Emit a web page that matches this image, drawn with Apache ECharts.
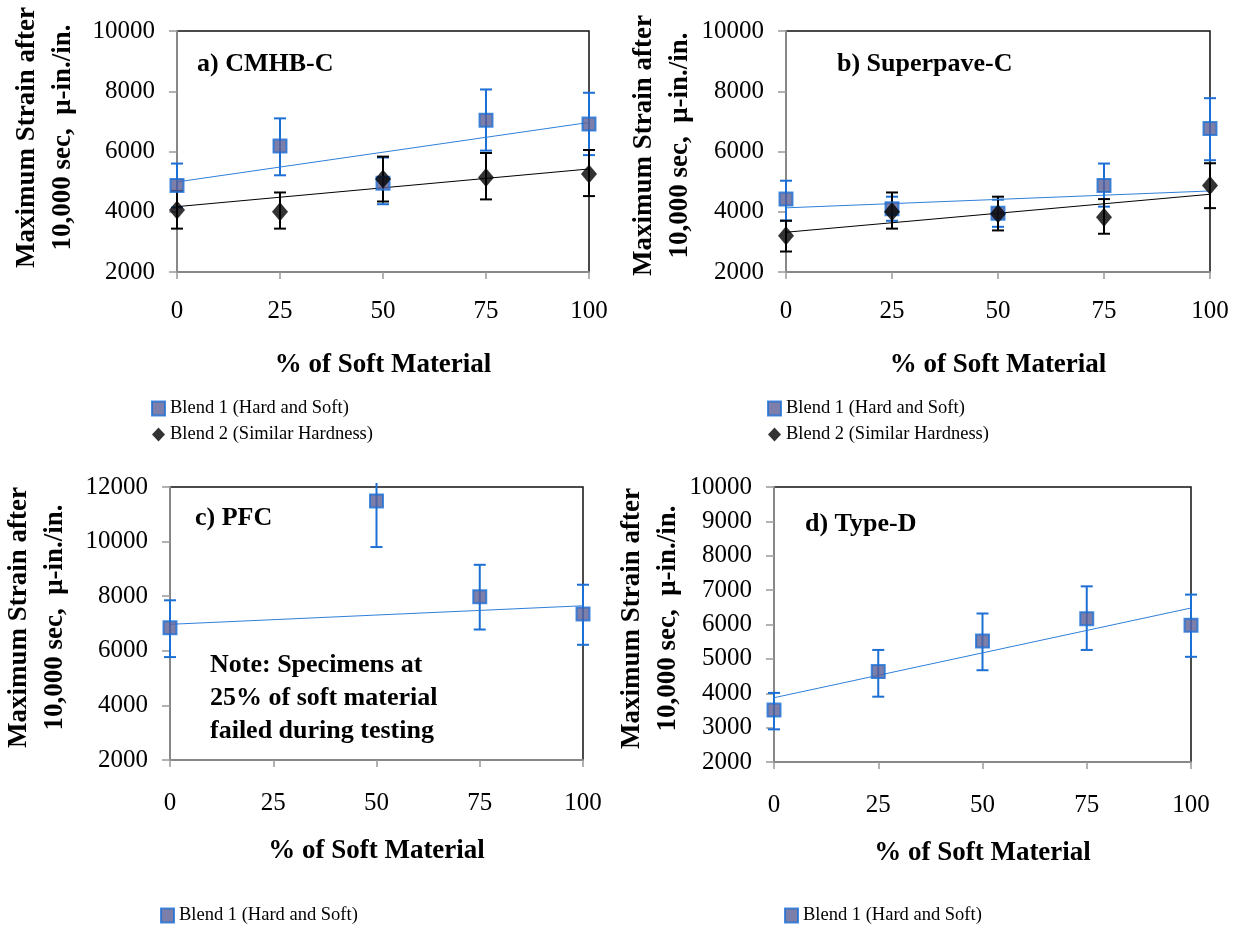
<!DOCTYPE html>
<html>
<head>
<meta charset="utf-8">
<script src="https://cdn.jsdelivr.net/npm/echarts@6/dist/echarts.min.js"></script>
<style>
html,body{margin:0;padding:0;background:#fff;}
#main{width:1239px;height:925px;}
</style>
</head>
<body>
<div id="main"></div>
<script>
// % of soft material
var pct = [0, 25, 50, 75, 100];
var trendX = [0, 100];

// a) CMHB-C
var aBlend1   = [4870, 6180, 4950, 7040, 6910];
var aBlend1Lo = [4140, 5210, 4250, 6030, 5880];
var aBlend1Hi = [5600, 7100, 5800, 8060, 7950];
var aBlend2   = [4060, 4000, 5090, 5140, 5250];
var aBlend2Lo = [3440, 3440, 4340, 4410, 4520];
var aBlend2Hi = [4690, 4640, 5830, 5950, 6050];
var aTrend1 = [4990, 6965];
var aTrend2 = [4170, 5420];

// b) Superpave-C
var bBlend1   = [4420, 4100, 3950, 4870, 6760];
var bBlend1Lo = [3710, 3700, 3500, 4170, 5710];
var bBlend1Hi = [5030, 4500, 4400, 5600, 7770];
var bBlend2   = [3200, 4000, 3930, 3820, 4870];
var bBlend2Lo = [2680, 3440, 3380, 3270, 4120];
var bBlend2Hi = [3700, 4640, 4500, 4420, 5610];
var bTrend1 = [4130, 4690];
var bTrend2 = [3320, 4580];

// c) PFC (no 25% result)
var cBlend1   = [6840, null, 11490, 7980, 7350];
var cBlend1Lo = [5770, null, 9800, 6780, 6220];
var cBlend1Hi = [7850, null, 13180, 9150, 8420];
var cTrend1 = [6970, 7650];

// d) Type-D
var dBlend1   = [3510, 4630, 5520, 6170, 5980];
var dBlend1Lo = [2950, 3900, 4670, 5260, 5060];
var dBlend1Hi = [4010, 5260, 6320, 7110, 6870];
var dTrend1 = [3870, 6480];

var yTicksA = {min: 2000, max: 10000, interval: 2000};
var yTicksC = {min: 2000, max: 12000, interval: 2000};
var yTicksD = {min: 2000, max: 10000, interval: 1000};

var NAME1 = 'Blend 1 (Hard and Soft)';
var NAME2 = 'Blend 2 (Similar Hardness)';
var FONT = '"Liberation Serif", "Times New Roman", serif';
var BLUE = '#1c6fd4';

function pts(xs, ys) {
    var out = [];
    for (var i = 0; i < xs.length; i++) {
        if (ys[i] != null) out.push([xs[i], ys[i]]);
    }
    return out;
}
function errs(xs, lo, hi) {
    var out = [];
    for (var i = 0; i < xs.length; i++) {
        if (lo[i] != null) out.push([xs[i], lo[i], hi[i]]);
    }
    return out;
}

// vertical error bar with caps; bar running off the top of the plot loses its cap
function errRender(params, api) {
    var x = api.value(0);
    var pLo = api.coord([x, api.value(1)]);
    var pHi = api.coord([x, api.value(2)]);
    var cs = params.coordSys;
    var top = pHi[1], capTop = true;
    if (top < cs.y - 4) { top = cs.y - 4; capTop = false; }
    var st = {stroke: api.visual('color'), lineWidth: 2};
    var w = 6;
    var kids = [
        {type: 'line', shape: {x1: pLo[0], y1: pLo[1], x2: pLo[0], y2: top}, style: st},
        {type: 'line', shape: {x1: pLo[0] - w, y1: pLo[1], x2: pLo[0] + w, y2: pLo[1]}, style: st}
    ];
    if (capTop) kids.push({type: 'line', shape: {x1: pHi[0] - w, y1: top, x2: pHi[0] + w, y2: top}, style: st});
    return {type: 'group', children: kids};
}

var grids = [
    {left: 177, right: 650, top: 31, height: 241},
    {left: 786, right: 29, top: 31, height: 241},
    {left: 168, right: 656, top: 487, height: 273},
    {left: 774, right: 48, top: 487, height: 275}
];
grids.forEach(function (g) {
    g.show = true; g.borderColor = '#111'; g.borderWidth = 1.5; g.backgroundColor = 'transparent';
});

function xAx(i, labelGap, nameGap) {
    return {
        gridIndex: i, type: 'value', min: 0, max: 100, interval: 25,
        name: '% of Soft Material', nameLocation: 'middle', nameGap: nameGap,
        nameTextStyle: {fontFamily: FONT, fontWeight: 'bold', fontSize: 27, color: '#000'},
        axisLine: {onZero: false, lineStyle: {color: '#888', width: 2}},
        axisTick: {show: true, length: 7, lineStyle: {color: '#999', width: 1.5}},
        axisLabel: {fontFamily: FONT, fontSize: 25, color: '#000', margin: labelGap},
        splitLine: {show: false}
    };
}
function yAx(i, t, gap, lift) {
    return {
        gridIndex: i, type: 'value', min: t.min, max: t.max, interval: t.interval,
        name: 'Maximum Strain after\n10,000 sec,  \u03bc-in./in.', nameLocation: 'middle', nameRotate: 90, nameGap: gap,
        nameTextStyle: {fontFamily: FONT, fontWeight: 'bold', fontSize: 27, color: '#000', lineHeight: 36,
                        padding: [0, 0, 0, lift]},
        axisLine: {show: true, lineStyle: {color: '#888', width: 2}},
        axisTick: {show: true, length: 8, lineStyle: {color: '#999', width: 1.5}},
        axisLabel: {fontFamily: FONT, fontSize: 25, color: '#000', margin: 22,
                    formatter: function (v) { return String(v); }},
        splitLine: {show: false}
    };
}

var series = [];
function addBlend(gi, name, xs, ys, lo, hi, trend, isDiamond) {
    var col = isDiamond ? '#000' : BLUE;
    series.push({
        type: 'custom', xAxisIndex: gi, yAxisIndex: gi, renderItem: errRender,
        itemStyle: {color: col}, data: errs(xs, lo, hi), z: 2, silent: true
    });
    series.push({
        type: 'line', xAxisIndex: gi, yAxisIndex: gi, data: pts(trendX, trend),
        symbol: 'none', lineStyle: {color: isDiamond ? '#000' : '#2f80da', width: 1}, z: 3, silent: true
    });
    series.push({
        name: name, type: 'scatter', xAxisIndex: gi, yAxisIndex: gi, data: pts(xs, ys), z: 4,
        symbol: isDiamond ? 'diamond' : 'rect', symbolSize: isDiamond ? [16, 19] : 13,
        itemStyle: isDiamond ? {color: '#000'} : {color: '#5d5f96', borderColor: BLUE, borderWidth: 2}
    });
}
addBlend(0, NAME1, pct, aBlend1, aBlend1Lo, aBlend1Hi, aTrend1, false);
addBlend(0, NAME2, pct, aBlend2, aBlend2Lo, aBlend2Hi, aTrend2, true);
addBlend(1, NAME1, pct, bBlend1, bBlend1Lo, bBlend1Hi, bTrend1, false);
addBlend(1, NAME2, pct, bBlend2, bBlend2Lo, bBlend2Hi, bTrend2, true);
addBlend(2, NAME1, pct, cBlend1, cBlend1Lo, cBlend1Hi, cTrend1, false);
addBlend(3, NAME1, pct, dBlend1, dBlend1Lo, dBlend1Hi, dTrend1, false);

function legend(left, top, names) {
    return {
        left: left, top: top, orient: 'vertical', data: names, itemGap: 7,
        itemWidth: 13, itemHeight: 14, selectedMode: false,
        textStyle: {fontFamily: FONT, fontSize: 18.5, color: '#000'}
    };
}

var titleStyle = {fontFamily: FONT, fontWeight: 'bold', fontSize: 26, color: '#000'};
var option = {
    animation: false,
    backgroundColor: '#fff',
    title: [
        {text: 'a) CMHB-C', left: 192, top: 46, textStyle: titleStyle},
        {text: 'b) Superpave-C', left: 832, top: 46, textStyle: titleStyle},
        {text: 'c) PFC', left: 190, top: 500, textStyle: titleStyle},
        {text: 'd) Type-D', left: 800, top: 506, textStyle: titleStyle},
        {text: 'Note: Specimens at\n25% of soft material\nfailed during testing', left: 205, top: 644,
         textStyle: {fontFamily: FONT, fontWeight: 'bold', fontSize: 26, color: '#000', lineHeight: 33}}
    ],
    legend: [
        legend(146, 394, [NAME1, NAME2]),
        legend(762, 394, [NAME1, NAME2]),
        legend(155, 901, [NAME1]),
        legend(779, 901, [NAME1])
    ],
    grid: grids,
    xAxis: [xAx(0, 27, 80), xAx(1, 27, 80), xAx(2, 31, 78), xAx(3, 31, 78)],
    yAxis: [yAx(0, yTicksA, 96, 28), yAx(1, yTicksA, 88, 12), yAx(2, yTicksC, 97, 12), yAx(3, yTicksD, 86, 12)],
    series: series
};

var myChart = echarts.init(document.getElementById('main'));
myChart.setOption(option);
</script>
</body>
</html>
